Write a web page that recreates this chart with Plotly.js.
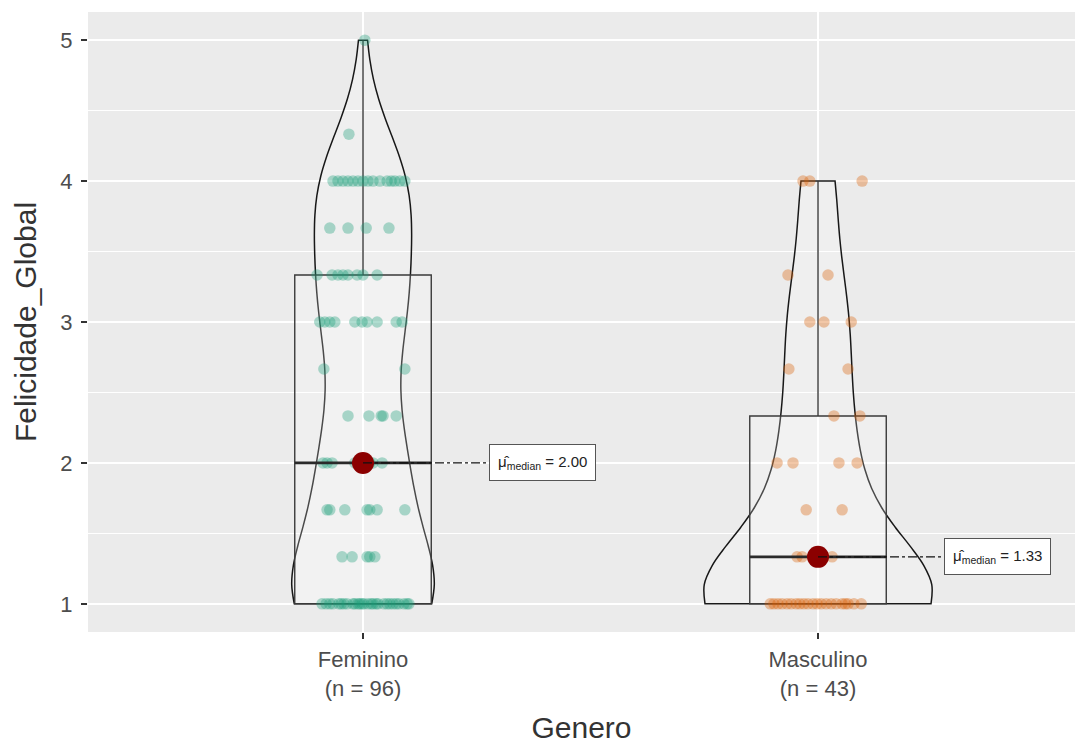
<!DOCTYPE html>
<html><head><meta charset="utf-8">
<script src="https://cdn.plot.ly/plotly-3.0.1.min.js"></script>
<style>html,body{margin:0;padding:0;background:#fff}#chart{width:1075px;height:744px}</style>
</head><body><div id="chart"></div>
<script>
// ---- data ----
const groups = ["Feminino", "Masculino"];
const groupPos = [1, 2];
const xTitle = "Genero";
const yTitle = "Felicidade_Global";

const femValues = [
  5,
  4.3333,
  4, 4, 4, 4, 4, 4, 4, 4, 4, 4, 4, 4, 4, 4, 4,
  3.6667, 3.6667, 3.6667, 3.6667,
  3.3333, 3.3333, 3.3333, 3.3333, 3.3333, 3.3333, 3.3333, 3.3333,
  3, 3, 3, 3, 3, 3, 3, 3, 3, 3,
  2.6667, 2.6667,
  2.3333, 2.3333, 2.3333, 2.3333, 2.3333,
  2, 2, 2, 2, 2, 2, 2, 2, 2, 2,
  1.6667, 1.6667, 1.6667, 1.6667, 1.6667, 1.6667, 1.6667,
  1.3333, 1.3333, 1.3333, 1.3333, 1.3333,
  1, 1, 1, 1, 1, 1, 1, 1, 1, 1, 1, 1, 1, 1,
  1, 1, 1, 1, 1, 1, 1, 1, 1, 1, 1, 1, 1, 1
];
const femJitter = [
  0.004,
  -0.031,
  -0.066, -0.055, -0.044, -0.033, -0.022, -0.011, 0.000, 0.011, 0.022, 0.037, 0.053, 0.062, 0.070, 0.081, 0.092,
  -0.073, -0.033, 0.007, 0.057,
  -0.101, -0.068, -0.055, -0.044, -0.033, -0.013, 0.000, 0.031,
  -0.095, -0.084, -0.073, -0.062, -0.018, -0.002, 0.009, 0.031, 0.073, 0.086,
  -0.086, 0.092,
  -0.033, 0.013, 0.040, 0.044, 0.073,
  -0.088, -0.079, -0.068, -0.018, -0.011, 0.000, 0.011, 0.015, 0.022, 0.042,
  -0.079, -0.073, -0.040, 0.009, 0.015, 0.031, 0.092,
  -0.046, -0.024, 0.009, 0.015, 0.026,
  -0.090, -0.081, -0.073, -0.066, -0.053, -0.048, -0.042, -0.035, -0.022, -0.018,
  -0.011, -0.007, -0.002, 0.002, 0.011, 0.018, 0.022, 0.029, 0.033, 0.046,
  0.053, 0.059, 0.066, 0.073, 0.079, 0.090, 0.097, 0.101
];

const masValues = [
  4, 4, 4,
  3.3333, 3.3333,
  3, 3, 3,
  2.6667, 2.6667,
  2.3333, 2.3333,
  2, 2, 2, 2,
  1.6667, 1.6667,
  1.3333, 1.3333, 1.3333, 1.3333,
  1, 1, 1, 1, 1, 1, 1, 1, 1, 1, 1, 1, 1, 1, 1, 1, 1, 1, 1, 1, 1
];
const masJitter = [
  -0.033, -0.018, 0.097,
  -0.066, 0.022,
  -0.018, 0.013, 0.073,
  -0.064, 0.066,
  0.035, 0.092,
  -0.090, -0.055, 0.046, 0.086,
  -0.026, 0.053,
  -0.046, -0.035, 0.000, 0.031,
  -0.105, -0.097, -0.088, -0.079, -0.068, -0.059, -0.048, -0.040, -0.031, -0.022,
  -0.011, -0.002, 0.007, 0.018, 0.029, 0.040, 0.053, 0.060, 0.066, 0.079, 0.095
];

const groupValues = [femValues, masValues];
const groupJitter = [femJitter, masJitter];
const pointColors = ["rgba(27,158,119,0.35)", "rgba(217,95,2,0.35)"];

// ---- helpers ----
function sorted(a) { return a.slice().sort((p, q) => p - q); }
function q7(s, p) {
  const h = (s.length - 1) * p, lo = Math.floor(h), hi = Math.min(lo + 1, s.length - 1);
  return s[lo] + (h - lo) * (s[hi] - s[lo]);
}
function sd(a) {
  const m = a.reduce((s, v) => s + v, 0) / a.length;
  return Math.sqrt(a.reduce((s, v) => s + (v - m) * (v - m), 0) / (a.length - 1));
}
function bwNrd0(a) {
  const s = sorted(a);
  const lo = Math.min(sd(a), (q7(s, 0.75) - q7(s, 0.25)) / 1.34);
  return 0.9 * lo * Math.pow(a.length, -0.2);
}

const FONT = "Liberation Sans, Arial, Helvetica, sans-serif";
const traces = [];
const annotations = [];
const boxHalf = 0.15;
const labelGap = 0.277;

groups.forEach((g, i) => {
  const vals = groupValues[i];
  const pos = groupPos[i];
  traces.push({
    type: "violin", x: vals.map(() => pos), y: vals,
    scalegroup: "all", scalemode: "width", spanmode: "hard",
    bandwidth: bwNrd0(vals), points: false,
    fillcolor: "rgba(255,255,255,0.22)",
    line: { color: "rgba(0,0,0,0.9)", width: 1.5 },
    box: { visible: false }, meanline: { visible: false },
    hoverinfo: "skip", showlegend: false
  });
});
groups.forEach((g, i) => {
  const vals = groupValues[i];
  const pos = groupPos[i];
  traces.push({
    type: "box", x: vals.map(() => pos), y: vals, width: 2 * boxHalf,
    quartilemethod: "linear", boxpoints: false, whiskerwidth: 0,
    fillcolor: "rgba(255,255,255,0.22)",
    line: { color: "#3a3a3a", width: 1.4 },
    hoverinfo: "skip", showlegend: false
  });
});
groups.forEach((g, i) => {
  const vals = groupValues[i];
  const pos = groupPos[i];
  traces.push({
    type: "scatter", mode: "markers",
    x: vals.map((v, k) => pos + groupJitter[i][k]), y: vals,
    marker: { color: pointColors[i], size: 11.5, line: { width: 0 } },
    hoverinfo: "skip", showlegend: false
  });
});
groups.forEach((g, i) => {
  const vals = groupValues[i];
  const pos = groupPos[i];
  const med = q7(sorted(vals), 0.5);
  traces.push({
    type: "scatter", mode: "lines",
    x: [pos - boxHalf, pos + boxHalf], y: [med, med],
    line: { color: "#2a2a2a", width: 2.6 }, hoverinfo: "skip", showlegend: false
  });
  traces.push({
    type: "scatter", mode: "markers", x: [pos], y: [med],
    marker: { color: "#8B0000", size: 22 }, hoverinfo: "skip", showlegend: false
  });
  traces.push({
    type: "scatter", mode: "lines", x: [pos, pos + labelGap], y: [med, med],
    line: { color: "#111", width: 1.4, dash: "dashdot" }, hoverinfo: "skip", showlegend: false
  });
  annotations.push({
    x: pos + labelGap, y: med, xref: "x", yref: "y", xanchor: "left", yanchor: "middle",
    showarrow: false,
    text: "μ̂<sub>median</sub> = " + med.toFixed(2),
    font: { family: FONT, size: 15, color: "#222" },
    bgcolor: "#ffffff", bordercolor: "#555", borderwidth: 1, borderpad: 8
  });
});

const tickText = groups.map((g, i) => g + "<br>(n = " + groupValues[i].length + ")");

const layout = {
  width: 1075, height: 744,
  margin: { l: 88, r: 0, t: 12, b: 112 },
  paper_bgcolor: "#ffffff", plot_bgcolor: "#EBEBEB",
  font: { family: FONT, color: "#4D4D4D" },
  showlegend: false,
  violinmode: "overlay", violingap: 0.5, violingroupgap: 0, boxmode: "overlay",
  xaxis: {
    range: [0.3956, 2.5648], tickvals: groupPos, ticktext: tickText,
    ticks: "outside", ticklen: 6, tickwidth: 1.4, tickcolor: "#333",
    showgrid: true, gridcolor: "#ffffff", gridwidth: 2, zeroline: false, showline: false,
    tickfont: { family: FONT, size: 22, color: "#4D4D4D" }, ticklabelstandoff: 2,
    title: { text: xTitle, font: { family: FONT, size: 30, color: "#333" }, standoff: 26 }
  },
  yaxis: {
    range: [0.8, 5.2], tick0: 1, dtick: 1,
    ticks: "outside", ticklen: 6, tickwidth: 1.4, tickcolor: "#333",
    showgrid: true, gridcolor: "#ffffff", gridwidth: 2, zeroline: false, showline: false,
    minor: { dtick: 0.5, showgrid: true, gridcolor: "#ffffff", gridwidth: 1, ticks: "" },
    tickfont: { family: FONT, size: 22, color: "#4D4D4D" }, ticklabelstandoff: 4,
    title: { text: yTitle, font: { family: FONT, size: 30, color: "#333" }, standoff: 14 }
  },
  annotations: annotations
};

Plotly.newPlot("chart", traces, layout, { displayModeBar: false, staticPlot: true });
</script></body></html>
